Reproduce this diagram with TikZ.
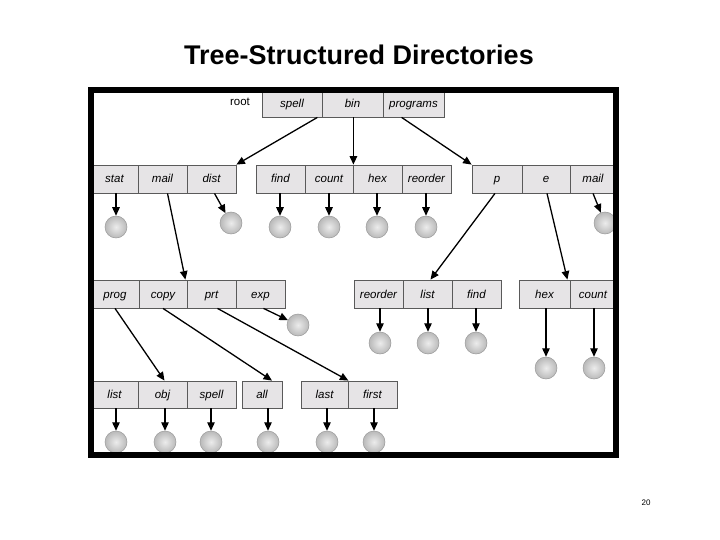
\documentclass[tikz,border=0pt]{standalone}
\usepackage{fontspec}
\setmainfont{Liberation Sans}
\usetikzlibrary{arrows.meta}
\definecolor{boxfill}{HTML}{E6E4E6}
\definecolor{boxline}{HTML}{5A5A5A}
\tikzset{
  dbox/.style={draw=boxline, fill=boxfill, line width=0.8pt, minimum height=28, inner sep=0,
    text height=9.5pt, text depth=1.5pt,
    font=\fontsize{11.5}{12}\selectfont\itshape},
  ball/.style={circle, minimum size=22, inner sep=0, draw=gray!80, line width=0.5,
    inner color=gray!15, outer color=gray!55},
  arr/.style={line width=1.3, -{Triangle[length=8.5,width=7.5]}},
}
\begin{document}
\begin{tikzpicture}[x=1pt,y=-1pt]
\useasboundingbox (0,0) rectangle (720,540);
\node[font=\fontsize{27}{30}\selectfont\bfseries] (title) at (359,55) {Tree-Structured Directories};
\node[font=\fontsize{8}{9}\selectfont] (pnum) at (646,503) {20};

% root row
\node[font=\fontsize{11.5}{12}\selectfont, text height=8.5pt, text depth=2.5pt] (root) at (240,103) {root};
\node[dbox, minimum width=60, minimum height=26] (spell) at (292,104) {spell};
\node[dbox, minimum width=61, minimum height=26] (bin) at (352.5,104) {bin};
\node[dbox, minimum width=61, minimum height=26] (programs) at (413.5,104) {programs};

% row 2
\node[dbox, minimum width=47] (stat) at (114.5,179) {stat};
\node[dbox, minimum width=49] (mail) at (162.5,179) {mail};
\node[dbox, minimum width=49] (dist) at (211.5,179) {dist};
\node[dbox, minimum width=49] (find) at (280.5,179) {find};
\node[dbox, minimum width=48] (count) at (329,179) {count};
\node[dbox, minimum width=49] (hex) at (377.5,179) {hex};
\node[dbox, minimum width=49] (reorder) at (426.5,179) {reorder};
\node[dbox, minimum width=50] (p) at (497,179) {p};
\node[dbox, minimum width=48] (e) at (546,179) {e};
\node[dbox, minimum width=46] (mailb) at (593,179) {mail};

% row 2 files
\node[ball] (cstat) at (116,227) {};
\node[ball] (cdist) at (231,223) {};
\node[ball] (cfind) at (280,227) {};
\node[ball] (ccount) at (329,227) {};
\node[ball] (chex) at (377,227) {};
\node[ball] (creorder) at (426,227) {};
\node[ball] (cmailb) at (605,223) {};

% row 3
\node[dbox, minimum width=48] (prog) at (115,294) {prog};
\node[dbox, minimum width=48] (copy) at (163,294) {copy};
\node[dbox, minimum width=49] (prt) at (211.5,294) {prt};
\node[dbox, minimum width=49] (exp) at (260.5,294) {exp};
\node[dbox, minimum width=49] (reorderb) at (378.5,294) {reorder};
\node[dbox, minimum width=49] (list) at (427.5,294) {list};
\node[dbox, minimum width=49] (findb) at (476.5,294) {find};
\node[dbox, minimum width=51] (hexb) at (544.5,294) {hex};
\node[dbox, minimum width=46] (countb) at (593,294) {count};

% row 3 files
\node[ball] (cexp) at (298,325) {};
\node[ball] (creorderb) at (380,343) {};
\node[ball] (clist) at (428,343) {};
\node[ball] (cfindb) at (476,343) {};
\node[ball] (chexb) at (546,368) {};
\node[ball] (ccountb) at (594,368) {};

% row 4
\node[dbox, minimum width=47, minimum height=27] (listb) at (114.5,394.5) {list};
\node[dbox, minimum width=49, minimum height=27] (obj) at (162.5,394.5) {obj};
\node[dbox, minimum width=49, minimum height=27] (spellb) at (211.5,394.5) {spell};
\node[dbox, minimum width=40, minimum height=27] (all) at (262,394.5) {all};
\node[dbox, minimum width=47, minimum height=27] (last) at (324.5,394.5) {last};
\node[dbox, minimum width=49, minimum height=27] (first) at (372.5,394.5) {first};

% row 4 files
\node[ball] (clistb) at (116,442) {};
\node[ball] (cobj) at (165,442) {};
\node[ball] (cspellb) at (211,442) {};
\node[ball] (call) at (268,442) {};
\node[ball] (clast) at (327,442) {};
\node[ball] (cfirst) at (374,442) {};

% connectors from root
\draw[arr] ([xshift=-5pt]spell.south east) -- (dist.north east);
\draw[arr] (count.north east |- bin.south) -- (count.north east);
\draw[arr] ([xshift=19pt]programs.south west) -- (p.north west);

% row 2 connectors
\foreach \b/\c in {stat/cstat, find/cfind, count/ccount, hex/chex, reorder/creorder}
  \draw[arr] (\c.north |- \b.south) -- (\c);
\draw[arr] ([xshift=3pt]dist.south) -- (cdist);
\draw[arr] (mailb.south) -- (cmailb);
\draw[arr] ([xshift=5pt]mail.south) -- ([xshift=-2pt]copy.north east);
\draw[arr] ([xshift=-2pt]p.south) -- ([xshift=3pt]list.north);
\draw[arr] ([xshift=1pt]e.south) -- ([xshift=-3pt]hexb.north east);

% row 3 connectors
\foreach \b/\c in {reorderb/creorderb, list/clist, findb/cfindb, hexb/chexb, countb/ccountb}
  \draw[arr] (\c.north |- \b.south) -- (\c);
\draw[arr] ([xshift=3pt]exp.south) -- (cexp);
\draw[arr] (prog.south) -- ([xshift=2pt]obj.north);
\draw[arr] (copy.south) -- ([xshift=10pt]all.north);
\draw[arr] ([xshift=6pt]prt.south) -- (last.north east);

% row 4 connectors
\foreach \b/\c in {listb/clistb, obj/cobj, spellb/cspellb, all/call, last/clast, first/cfirst}
  \draw[arr] (\c.north |- \b.south) -- (\c);

% frame
\draw[line width=6] (91,90) rectangle (616,454.5);
\end{tikzpicture}
\end{document}
